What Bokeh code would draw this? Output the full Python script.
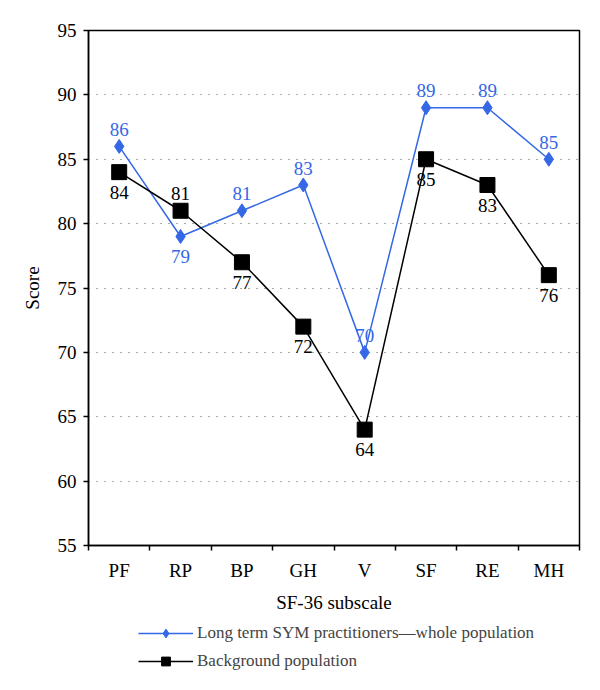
from bokeh.plotting import figure
from bokeh.layouts import column
from bokeh.models import Range1d, FixedTicker, ColumnDataSource, Legend, LegendItem
from bokeh.embed import file_html
from bokeh.resources import INLINE
from bokeh.core.properties import value

categories = ["PF", "RP", "BP", "GH", "V", "SF", "RE", "MH"]
sym_scores = [86, 79, 81, 83, 70, 89, 89, 85]
bg_scores = [84, 81, 77, 72, 64, 85, 83, 76]
sym_label_pos = ["above", "below", "above", "above", "above", "above", "above", "above"]
bg_label_pos = ["below", "above", "below", "below", "below", "below", "below", "below"]
y_ticks = [55, 60, 65, 70, 75, 80, 85, 90, 95]
grid_ticks = [60, 65, 70, 75, 80, 85, 90]
series_names = ["Long term SYM practitioners\u2014whole population", "Background population"]

FONT = "Liberation Serif"
BLUE = "#3468e6"
FS = "19px"

xs = [i + 0.5 for i in range(len(categories))]

p = figure(frame_width=491, frame_height=515, output_backend="svg", toolbar_location=None,
           x_range=Range1d(0, len(categories)), y_range=Range1d(55, 95),
           min_border_left=88, min_border_right=21, min_border_top=30,
           min_border_bottom=67)

p.background_fill_color = "white"
p.border_fill_color = "white"
p.outline_line_color = "black"
p.outline_line_width = 1.5

# x axis: labels at centres, tick marks at boundaries
p.xaxis.ticker = FixedTicker(ticks=xs, minor_ticks=list(range(len(categories) + 1)))
p.xaxis.major_label_overrides = {x: c for x, c in zip(xs, categories)}
p.xaxis.major_tick_out = 0
p.xaxis.major_tick_in = 0
p.xaxis.minor_tick_out = 5
p.xaxis.minor_tick_in = 0
p.xaxis.minor_tick_line_color = "black"
p.xaxis.minor_tick_line_width = 1.5
p.xaxis.axis_label = "SF-36 subscale"

p.yaxis.ticker = FixedTicker(ticks=y_ticks, minor_ticks=[])
p.yaxis.major_tick_out = 5
p.yaxis.major_tick_in = 0
p.yaxis.axis_label = "Score"

for ax in (p.xaxis[0], p.yaxis[0]):
    ax.axis_line_color = "black"
    ax.axis_line_width = 1.5
    ax.major_tick_line_color = "black"
    ax.major_tick_line_width = 1.5
    ax.major_label_text_font = FONT
    ax.major_label_text_font_size = FS
    ax.major_label_text_color = "black"
    ax.axis_label_text_font = FONT
    ax.axis_label_text_font_size = FS
    ax.axis_label_text_font_style = "normal"
    ax.axis_label_text_color = "black"
p.xaxis.major_label_standoff = 9
p.xaxis.axis_label_standoff = 8
p.yaxis.major_label_standoff = 7
p.yaxis.axis_label_standoff = 12

p.xgrid.grid_line_color = None
p.ygrid.ticker = FixedTicker(ticks=grid_ticks)
p.ygrid.grid_line_color = "#555555"
p.ygrid.grid_line_dash = "1 7"
p.ygrid.grid_line_width = 1.2

# series
p.line(xs, sym_scores, line_color=BLUE, line_width=1.5)
p.scatter(xs, sym_scores, marker="diamond", size=14, fill_color=BLUE, line_color=BLUE)
p.line(xs, bg_scores, line_color="black", line_width=1.5)
p.scatter(xs, bg_scores, marker="square", size=15, fill_color="black", line_color="black")

def offs(pos):
    return [-17 if s == "above" else 20 for s in pos]

src1 = ColumnDataSource(dict(x=xs, y=sym_scores, t=[str(v) for v in sym_scores], yo=offs(sym_label_pos)))
src2 = ColumnDataSource(dict(x=xs, y=bg_scores, t=[str(v) for v in bg_scores], yo=offs(bg_label_pos)))
p.text(x="x", y="y", text="t", y_offset="yo", source=src1, text_align="center",
       text_baseline="middle", text_font=value(FONT), text_font_size=FS, text_color=BLUE)
p.text(x="x", y="y", text="t", y_offset="yo", source=src2, text_align="center",
       text_baseline="middle", text_font=value(FONT), text_font_size=FS, text_color="black")

# legend panel (separate figure below the chart; its series lie outside its view)
q = figure(width=600, height=74, output_backend="svg", toolbar_location=None,
           x_range=Range1d(0, len(categories)), y_range=Range1d(0, 1), min_border=0)
q.axis.visible = False
q.grid.visible = False
q.outline_line_color = None
q.background_fill_color = "white"
q.border_fill_color = "white"
ql1 = q.line(xs, sym_scores, line_color=BLUE, line_width=1.5)
qm1 = q.scatter(xs, sym_scores, marker="diamond", size=13, fill_color=BLUE, line_color=BLUE)
ql2 = q.line(xs, bg_scores, line_color="black", line_width=1.5)
qm2 = q.scatter(xs, bg_scores, marker="square", size=14, fill_color="black", line_color="black")

legend = Legend(items=[
    LegendItem(label=series_names[0], renderers=[ql1, qm1]),
    LegendItem(label=series_names[1], renderers=[ql2, qm2]),
], location=(50, 17), orientation="vertical")
legend.label_text_font = FONT
legend.label_text_font_size = "17px"
legend.glyph_width = 55
legend.glyph_height = 22
legend.label_height = 22
legend.spacing = 6
legend.padding = 2
legend.margin = 0
legend.border_line_color = None
legend.background_fill_alpha = 0
legend.label_standoff = 4
q.add_layout(legend)

layout = column(p, q, spacing=0)
open("out.html", "w").write(file_html(layout, INLINE))
